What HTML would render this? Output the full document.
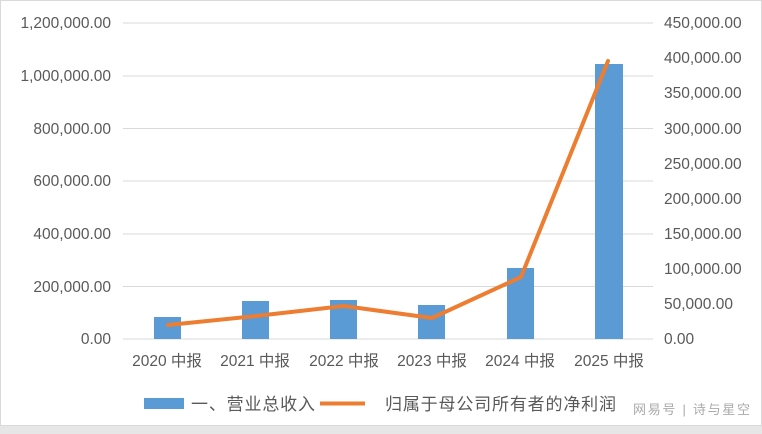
<!DOCTYPE html>
<html><head><meta charset="utf-8"><style>
html,body{margin:0;padding:0;background:#fff;}
svg{display:block;}
text{font-family:"Liberation Sans","Noto Sans CJK SC",sans-serif;fill:#595959;font-size:15.5px;}
</style></head><body>
<svg width="762" height="434" viewBox="0 0 762 434">
<rect x="0.5" y="0.5" width="761" height="425" fill="#fff" stroke="#d9d9d9"/>
<rect x="0" y="426" width="762" height="8" fill="#e6e6e6"/>
<g stroke="#d9d9d9" stroke-width="1">
<line x1="123" x2="653" y1="23" y2="23"/><line x1="123" x2="653" y1="76" y2="76"/>
<line x1="123" x2="653" y1="128.5" y2="128.5"/><line x1="123" x2="653" y1="181" y2="181"/>
<line x1="123" x2="653" y1="234" y2="234"/><line x1="123" x2="653" y1="286.5" y2="286.5"/>
<line x1="123" x2="653" y1="339" y2="339"/>
</g>
<g text-anchor="end">
<text x="111" y="28">1,200,000.00</text><text x="111" y="81">1,000,000.00</text>
<text x="111" y="134">800,000.00</text><text x="111" y="186">600,000.00</text>
<text x="111" y="239">400,000.00</text><text x="111" y="292">200,000.00</text>
<text x="111" y="344">0.00</text>
</g>
<g>
<text x="664" y="28">450,000.00</text><text x="664" y="63">400,000.00</text>
<text x="664" y="98">350,000.00</text><text x="664" y="134">300,000.00</text>
<text x="664" y="169">250,000.00</text><text x="664" y="204">200,000.00</text>
<text x="664" y="239">150,000.00</text><text x="664" y="274">100,000.00</text>
<text x="664" y="309">50,000.00</text><text x="664" y="344">0.00</text>
</g>
<g fill="#5b9bd5">
<rect x="154" y="317" width="27" height="22"/>
<rect x="242" y="301" width="27" height="38"/>
<rect x="330" y="300" width="27" height="39"/>
<rect x="418" y="305" width="27" height="34"/>
<rect x="507" y="268" width="27" height="71"/>
<rect x="595" y="64" width="28" height="275"/>
</g>
<polyline points="168,325 256,316 344,306 432,318 521,277 608,61" fill="none" stroke="#ed7d31" stroke-width="4" stroke-linejoin="round" stroke-linecap="round"/>
<g text-anchor="middle">
<text x="167" y="366">2020 中报</text><text x="255" y="366">2021 中报</text>
<text x="344" y="366">2022 中报</text><text x="432" y="366">2023 中报</text>
<text x="520" y="366">2024 中报</text><text x="609" y="366">2025 中报</text>
</g>
<rect x="144" y="398" width="40" height="11" fill="#5b9bd5"/>
<text x="191" y="410" style="font-size:17px" textLength="124">一、营业总收入</text>
<line x1="320" x2="365" y1="403.5" y2="403.5" stroke="#ed7d31" stroke-width="4"/>
<text x="385" y="410" style="font-size:17px" textLength="231">归属于母公司所有者的净利润</text>
<text x="633" y="414" style="font-size:13px;fill:#aaa" textLength="117">网易号 | 诗与星空</text>
</svg>
</body></html>
